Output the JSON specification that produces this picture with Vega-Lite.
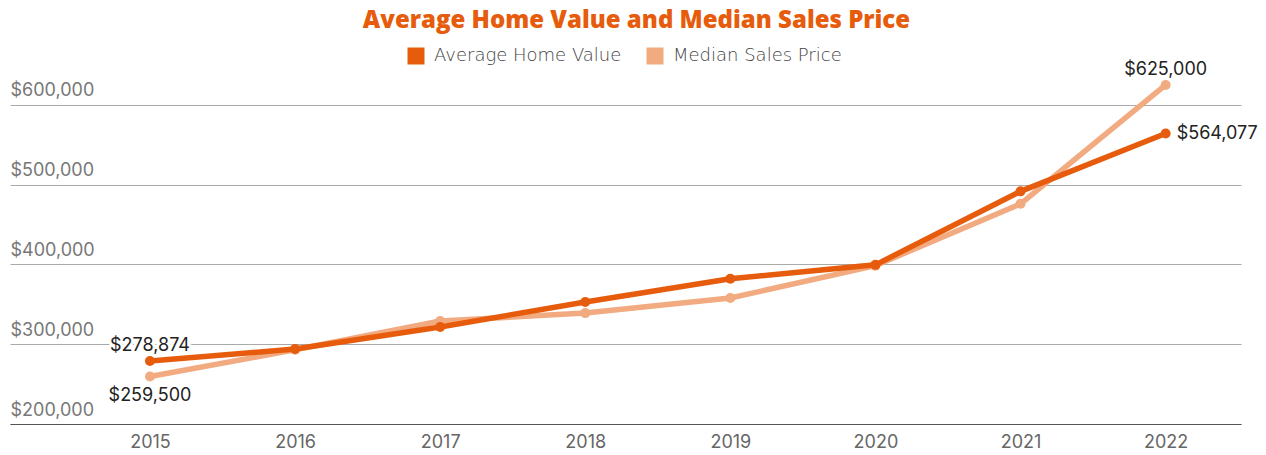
{
  "$schema": "https://vega.github.io/schema/vega-lite/v6.json",
  "autosize": "none",
  "width": 1231,
  "height": 359,
  "padding": {"left": 10, "top": 65, "right": 25, "bottom": 31},
  "background": "white",
  "title": {
    "text": "Average Home Value and Median Sales Price",
    "font": "Open Sans",
    "fontSize": 24,
    "fontWeight": 800,
    "color": "#E65C0C",
    "anchor": "middle",
    "dx": 11,
    "offset": 14
  },
  "config": {"view": {"stroke": null}},
  "data": {
    "values": [
      {"year": "2015", "series": "Average Home Value", "value": 278874},
      {"year": "2016", "series": "Average Home Value", "value": 294000},
      {"year": "2017", "series": "Average Home Value", "value": 321600},
      {"year": "2018", "series": "Average Home Value", "value": 352900},
      {"year": "2019", "series": "Average Home Value", "value": 382000},
      {"year": "2020", "series": "Average Home Value", "value": 399500},
      {"year": "2021", "series": "Average Home Value", "value": 491600},
      {"year": "2022", "series": "Average Home Value", "value": 564077},
      {"year": "2015", "series": "Median Sales Price", "value": 259500},
      {"year": "2016", "series": "Median Sales Price", "value": 293000},
      {"year": "2017", "series": "Median Sales Price", "value": 329000},
      {"year": "2018", "series": "Median Sales Price", "value": 339000},
      {"year": "2019", "series": "Median Sales Price", "value": 358000},
      {"year": "2020", "series": "Median Sales Price", "value": 398500},
      {"year": "2021", "series": "Median Sales Price", "value": 476000},
      {"year": "2022", "series": "Median Sales Price", "value": 625000}
    ]
  },
  "encoding": {
    "x": {
      "field": "year",
      "type": "ordinal",
      "scale": {"type": "point", "padding": 0.742, "align": 0.65},
      "axis": {
        "title": null,
        "labelAngle": 0,
        "labelFont": "Inter",
        "labelFontSize": 18,
        "labelColor": "#666666",
        "ticks": false,
        "tickSize": 0,
        "labelPadding": 9,
        "domainColor": "#555555",
        "domainWidth": 1.2,
        "grid": false
      }
    },
    "y": {
      "field": "value",
      "type": "quantitative",
      "scale": {"domain": [200000, 650000], "nice": false, "zero": false},
      "axis": {
        "title": null,
        "values": [200000, 300000, 400000, 500000, 600000],
        "format": "$,.0f",
        "labelAlign": "left",
        "labelBaseline": "bottom",
        "labelPadding": 0,
        "labelOffset": -5,
        "ticks": false,
        "tickSize": 0,
        "domain": false,
        "grid": true,
        "gridColor": "#aaaaaa",
        "gridWidth": 1,
        "labelFont": "Inter",
        "labelFontSize": 18,
        "labelColor": "#777777"
      }
    },
    "color": {
      "field": "series",
      "type": "nominal",
      "scale": {
        "domain": ["Average Home Value", "Median Sales Price"],
        "range": ["#E65C0C", "#F2AB80"]
      },
      "legend": {
        "title": null,
        "orient": "none",
        "legendX": 397,
        "legendY": -18,
        "direction": "horizontal",
        "symbolType": "square",
        "symbolSize": 289,
        "labelFont": "DejaVu Sans",
        "labelFontSize": 18,
        "labelFontWeight": 200,
        "labelColor": "#444444",
        "labelOffset": 9,
        "labelLimit": 400,
        "columnPadding": 24,
        "encode": {
          "symbols": {
            "update": {
              "fill": {"scale": "color", "field": "value"},
              "strokeWidth": {"value": 0},
              "opacity": {"value": 1}
            }
          }
        }
      }
    }
  },
  "layer": [
    {
      "transform": [{"filter": "datum.series === 'Median Sales Price'"}],
      "mark": {"type": "line", "strokeWidth": 5.5},
      "encoding": {}
    },
    {
      "transform": [{"filter": "datum.series === 'Median Sales Price'"}],
      "mark": {"type": "point", "filled": true, "size": 100, "opacity": 1},
      "encoding": {}
    },
    {
      "transform": [{"filter": "datum.series === 'Average Home Value'"}],
      "mark": {"type": "line", "strokeWidth": 5.5},
      "encoding": {}
    },
    {
      "transform": [{"filter": "datum.series === 'Average Home Value'"}],
      "mark": {"type": "point", "filled": true, "size": 100, "opacity": 1},
      "encoding": {}
    },
    {
      "transform": [{"filter": "datum.year === '2015' && datum.series === 'Average Home Value'"}],
      "mark": {"type": "text", "font": "Inter", "fontSize": 18, "align": "center", "baseline": "alphabetic", "dy": -10, "stroke": "white", "strokeWidth": 6, "strokeJoin": "round", "fill": "white"},
      "encoding": {"text": {"field": "value", "type": "quantitative", "format": "$,.0f"}, "color": {"value": "white"}}
    },
    {
      "transform": [{"filter": "datum.year === '2015' && datum.series === 'Average Home Value'"}],
      "mark": {"type": "text", "font": "Inter", "fontSize": 18, "align": "center", "baseline": "alphabetic", "dy": -10},
      "encoding": {"text": {"field": "value", "type": "quantitative", "format": "$,.0f"}, "color": {"value": "#222222"}}
    },
    {
      "transform": [{"filter": "datum.year === '2022' && datum.series === 'Median Sales Price'"}],
      "mark": {"type": "text", "font": "Inter", "fontSize": 18, "align": "center", "baseline": "alphabetic", "dy": -10},
      "encoding": {"text": {"field": "value", "type": "quantitative", "format": "$,.0f"}, "color": {"value": "#222222"}}
    },
    {
      "transform": [{"filter": "datum.year === '2015' && datum.series === 'Median Sales Price'"}],
      "mark": {"type": "text", "font": "Inter", "fontSize": 18, "align": "center", "baseline": "alphabetic", "dy": 24},
      "encoding": {"text": {"field": "value", "type": "quantitative", "format": "$,.0f"}, "color": {"value": "#222222"}}
    },
    {
      "transform": [{"filter": "datum.year === '2022' && datum.series === 'Average Home Value'"}],
      "mark": {"type": "text", "font": "Inter", "fontSize": 18, "align": "left", "baseline": "middle", "dx": 11},
      "encoding": {"text": {"field": "value", "type": "quantitative", "format": "$,.0f"}, "color": {"value": "#222222"}}
    }
  ]
}
